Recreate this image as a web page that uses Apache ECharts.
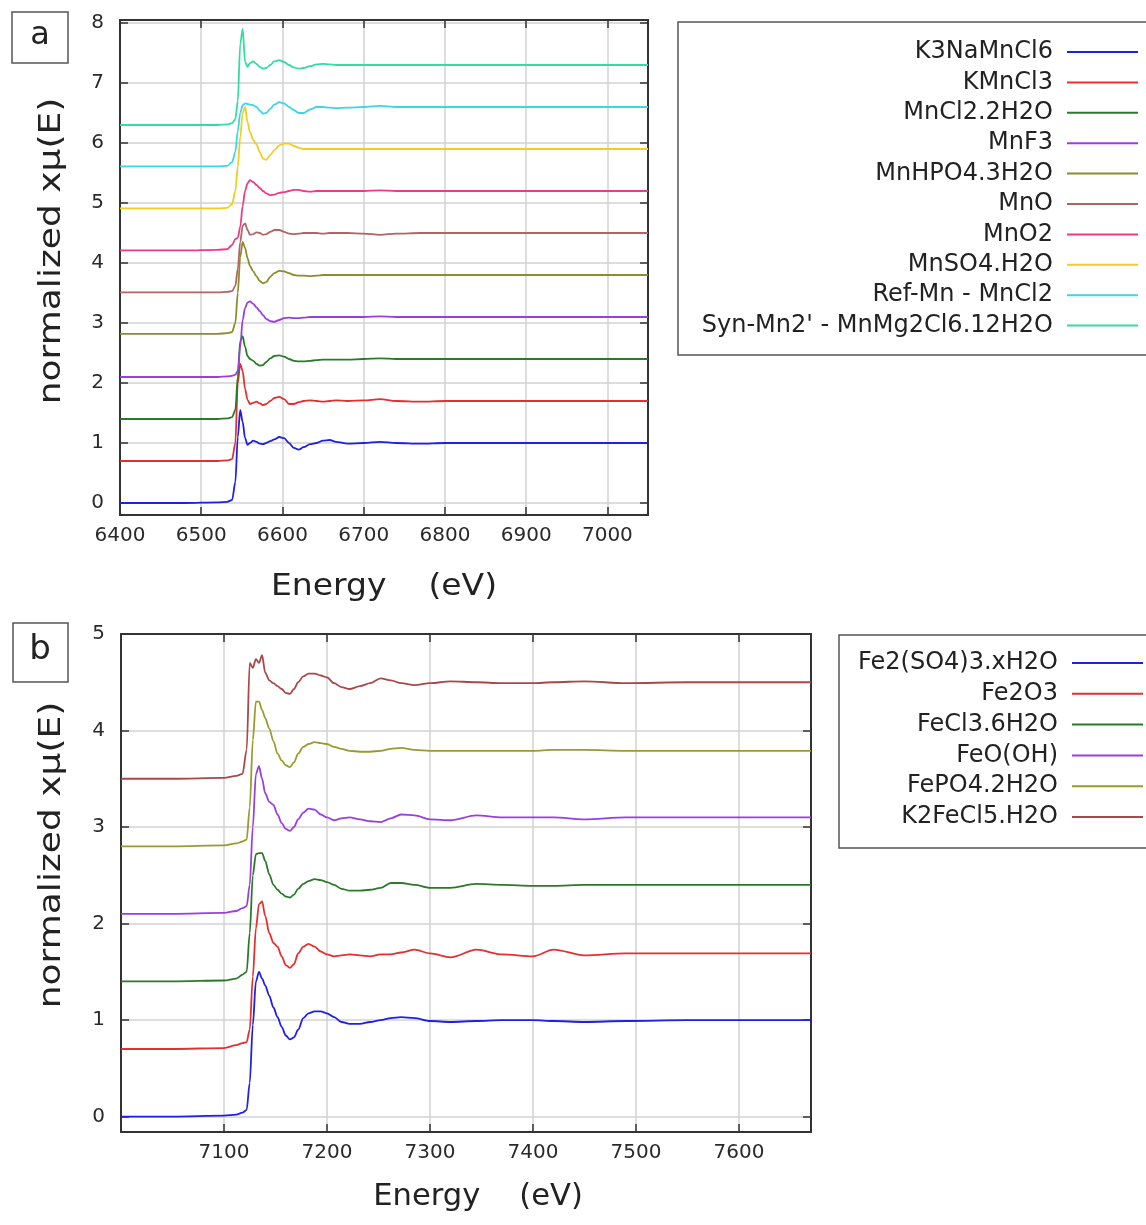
<!DOCTYPE html>
<html><head><meta charset="utf-8">
<script src="https://cdn.jsdelivr.net/npm/echarts@6/dist/echarts.min.js"></script>
<style>html,body{margin:0;padding:0;background:#fff}#c{width:1146px;height:1225px}</style>
</head><body><div id="c"></div>
<script>
// ---------- Panel a : Mn K-edge ----------
const energyMn = [6400, 6480, 6520, 6532, 6538, 6542, 6545, 6548, 6551, 6554, 6557, 6560, 6564, 6568, 6572, 6576, 6580, 6585, 6590, 6596, 6602, 6608, 6614, 6620, 6626, 6634, 6642, 6650, 6658, 6666, 6680, 6700, 6720, 6740, 6770, 6800, 6850, 6900, 6950, 7000, 7050];
const namesMn = ['K3NaMnCl6', 'KMnCl3', 'MnCl2.2H2O', 'MnF3', 'MnHPO4.3H2O', 'MnO', 'MnO2', 'MnSO4.H2O', 'Ref-Mn - MnCl2', "Syn-Mn2' - MnMg2Cl6.12H2O"];
const offsetsMn = [0, 0.7, 1.4, 2.1, 2.8, 3.5, 4.2, 4.9, 5.6, 6.3];
const k3NaMnCl6 = [0.00, 0.00, 0.01, 0.02, 0.05, 0.35, 1.10, 1.55, 1.35, 1.08, 0.97, 1.00, 1.04, 1.02, 0.99, 0.98, 1.00, 1.03, 1.06, 1.10, 1.08, 1.00, 0.92, 0.89, 0.93, 0.98, 1.00, 1.04, 1.05, 1.02, 0.99, 1.00, 1.02, 1.00, 0.99, 1.00, 1.00, 1.00, 1.00, 1.00, 1.00];
const kMnCl3 = [0.00, 0.00, 0.00, 0.01, 0.03, 0.30, 1.30, 1.62, 1.50, 1.20, 1.02, 0.95, 0.97, 0.99, 0.96, 0.93, 0.95, 1.00, 1.05, 1.07, 1.03, 0.95, 0.95, 0.98, 1.00, 1.01, 1.00, 0.99, 1.00, 1.01, 1.00, 1.01, 1.03, 1.00, 0.99, 1.00, 1.00, 1.00, 1.00, 1.00, 1.00];
const mnCl2_2H2O = [0.00, 0.00, 0.00, 0.01, 0.03, 0.15, 0.70, 1.30, 1.38, 1.20, 1.05, 1.00, 0.97, 0.92, 0.89, 0.90, 0.95, 1.01, 1.05, 1.06, 1.04, 1.00, 0.97, 0.96, 0.96, 0.97, 0.98, 0.99, 0.99, 0.99, 0.99, 1.00, 1.01, 1.00, 1.00, 1.00, 1.00, 1.00, 1.00, 1.00, 1.00];
const mnF3 = [0.00, 0.00, 0.00, 0.01, 0.02, 0.04, 0.10, 0.50, 0.95, 1.15, 1.24, 1.26, 1.22, 1.16, 1.10, 1.03, 0.97, 0.93, 0.92, 0.95, 0.98, 0.99, 0.98, 0.98, 0.99, 1.00, 1.00, 1.00, 1.00, 1.00, 1.00, 1.00, 1.01, 1.00, 1.00, 1.00, 1.00, 1.00, 1.00, 1.00, 1.00];
const mnHPO4_3H2O = [0.02, 0.02, 0.02, 0.03, 0.05, 0.20, 0.70, 1.30, 1.55, 1.45, 1.28, 1.15, 1.06, 0.98, 0.90, 0.86, 0.88, 0.97, 1.03, 1.07, 1.06, 1.03, 1.00, 0.99, 0.99, 0.98, 0.99, 1.00, 1.00, 1.00, 1.00, 1.00, 1.00, 1.00, 1.00, 1.00, 1.00, 1.00, 1.00, 1.00, 1.00];
const mnO = [0.01, 0.01, 0.01, 0.02, 0.03, 0.12, 0.40, 0.85, 1.12, 1.16, 1.05, 0.97, 0.98, 1.01, 1.00, 0.97, 0.98, 1.02, 1.05, 1.05, 1.02, 0.99, 0.98, 0.99, 1.00, 1.00, 1.00, 0.99, 1.00, 1.00, 1.00, 0.99, 0.97, 0.99, 1.00, 1.00, 1.00, 1.00, 1.00, 1.00, 1.00];
const mnO2 = [0.01, 0.01, 0.02, 0.03, 0.10, 0.20, 0.22, 0.40, 0.75, 1.00, 1.13, 1.18, 1.15, 1.10, 1.05, 1.00, 0.96, 0.93, 0.94, 0.97, 0.98, 1.00, 1.02, 1.02, 1.00, 0.99, 1.00, 1.00, 1.00, 1.00, 1.00, 1.00, 1.01, 1.00, 1.00, 1.00, 1.00, 1.00, 1.00, 1.00, 1.00];
const mnSO4_H2O = [0.01, 0.01, 0.01, 0.02, 0.08, 0.30, 0.70, 1.20, 1.60, 1.70, 1.45, 1.28, 1.15, 1.08, 0.95, 0.84, 0.82, 0.90, 0.98, 1.06, 1.09, 1.09, 1.05, 1.02, 1.00, 1.00, 1.00, 1.00, 1.00, 1.00, 1.00, 1.00, 1.00, 1.00, 1.00, 1.00, 1.00, 1.00, 1.00, 1.00, 1.00];
const refMnCl2 = [0.01, 0.01, 0.01, 0.02, 0.08, 0.25, 0.60, 0.90, 1.03, 1.06, 1.05, 1.04, 1.03, 1.00, 0.94, 0.89, 0.90, 0.97, 1.04, 1.08, 1.06, 1.00, 0.95, 0.90, 0.90, 0.96, 1.00, 1.00, 0.99, 0.98, 0.99, 1.00, 1.02, 1.00, 1.00, 1.00, 1.00, 1.00, 1.00, 1.00, 1.00];
const synMn2 = [0.00, 0.00, 0.00, 0.01, 0.03, 0.10, 0.40, 1.35, 1.60, 1.05, 0.97, 1.03, 1.06, 1.02, 0.97, 0.94, 0.95, 1.00, 1.06, 1.08, 1.05, 1.00, 0.96, 0.94, 0.95, 0.98, 1.01, 1.02, 1.01, 1.00, 1.00, 1.00, 1.00, 1.00, 1.00, 1.00, 1.00, 1.00, 1.00, 1.00, 1.00];
const valuesMn = [k3NaMnCl6, kMnCl3, mnCl2_2H2O, mnF3, mnHPO4_3H2O, mnO, mnO2, mnSO4_H2O, refMnCl2, synMn2];
const xTicksMn = [6400, 6500, 6600, 6700, 6800, 6900, 7000];
const yTicksMn = [0, 1, 2, 3, 4, 5, 6, 7, 8];

// ---------- Panel b : Fe K-edge ----------
const energyFe = [7000, 7050, 7100, 7112, 7118, 7122, 7125, 7128, 7131, 7134, 7137, 7140, 7144, 7148, 7152, 7156, 7160, 7164, 7168, 7172, 7177, 7182, 7188, 7194, 7200, 7207, 7214, 7222, 7232, 7242, 7252, 7262, 7272, 7285, 7300, 7320, 7345, 7370, 7400, 7420, 7450, 7490, 7550, 7600, 7670];
const namesFe = ['Fe2(SO4)3.xH2O', 'Fe2O3', 'FeCl3.6H2O', 'FeO(OH)', 'FePO4.2H2O', 'K2FeCl5.H2O'];
const offsetsFe = [0, 0.7, 1.4, 2.1, 2.8, 3.5];
const fe2SO43 = [0.00, 0.00, 0.01, 0.02, 0.04, 0.07, 0.35, 0.95, 1.40, 1.50, 1.43, 1.36, 1.25, 1.13, 1.03, 0.93, 0.84, 0.80, 0.82, 0.90, 1.02, 1.07, 1.09, 1.09, 1.07, 1.03, 0.98, 0.96, 0.96, 0.98, 1.00, 1.02, 1.03, 1.02, 0.99, 0.98, 0.99, 1.00, 1.00, 0.99, 0.98, 0.99, 1.00, 1.00, 1.00];
const fe2O3 = [0.00, 0.00, 0.01, 0.04, 0.06, 0.07, 0.20, 0.75, 1.25, 1.50, 1.53, 1.38, 1.20, 1.10, 1.06, 0.96, 0.87, 0.84, 0.88, 0.99, 1.06, 1.09, 1.06, 1.01, 0.98, 0.96, 0.97, 0.98, 0.97, 0.96, 0.98, 0.98, 1.00, 1.03, 0.99, 0.95, 1.03, 0.98, 0.96, 1.03, 0.97, 0.99, 0.99, 0.99, 0.99];
const feCl3_6H2O = [0.00, 0.00, 0.01, 0.03, 0.07, 0.10, 0.50, 1.10, 1.32, 1.33, 1.33, 1.25, 1.11, 1.00, 0.95, 0.91, 0.88, 0.87, 0.90, 0.96, 1.01, 1.04, 1.06, 1.05, 1.03, 1.00, 0.96, 0.94, 0.94, 0.95, 0.97, 1.02, 1.02, 1.00, 0.97, 0.97, 1.01, 1.00, 0.99, 0.99, 1.00, 1.00, 1.00, 1.00, 1.00];
const feOOH = [0.00, 0.00, 0.01, 0.03, 0.06, 0.08, 0.30, 0.90, 1.45, 1.53, 1.40, 1.25, 1.16, 1.13, 1.03, 0.94, 0.88, 0.86, 0.90, 0.98, 1.05, 1.09, 1.08, 1.03, 1.00, 0.97, 0.99, 1.00, 0.98, 0.96, 0.95, 0.99, 1.03, 1.02, 0.98, 0.97, 1.02, 1.00, 1.00, 1.00, 0.98, 1.00, 1.00, 1.00, 1.00];
const fePO4_2H2O = [0.00, 0.00, 0.01, 0.03, 0.05, 0.07, 0.40, 1.10, 1.50, 1.50, 1.41, 1.33, 1.22, 1.09, 0.96, 0.89, 0.84, 0.82, 0.87, 0.96, 1.03, 1.06, 1.08, 1.07, 1.06, 1.03, 1.01, 0.99, 0.98, 0.98, 0.99, 1.01, 1.02, 1.00, 0.99, 0.99, 0.99, 0.99, 0.99, 1.00, 1.00, 0.99, 0.99, 0.99, 0.99];
const k2FeCl5_H2O = [0.00, 0.00, 0.01, 0.03, 0.05, 0.30, 1.20, 1.15, 1.24, 1.20, 1.28, 1.10, 1.02, 0.99, 0.96, 0.93, 0.89, 0.88, 0.93, 1.00, 1.06, 1.09, 1.09, 1.07, 1.05, 0.99, 0.95, 0.93, 0.96, 0.99, 1.04, 1.02, 0.99, 0.97, 0.99, 1.01, 1.00, 0.99, 0.99, 1.00, 1.01, 0.99, 1.00, 1.00, 1.00];
const valuesFe = [fe2SO43, fe2O3, feCl3_6H2O, feOOH, fePO4_2H2O, k2FeCl5_H2O];
const xTicksFe = [7100, 7200, 7300, 7400, 7500, 7600];
const yTicksFe = [0, 1, 2, 3, 4, 5];

// ---------- styling ----------
const colorsMn = ['#1f1fe6', '#e62e2e', '#2a7a2a', '#9b3fdc', '#8c8c2a', '#b06464', '#ee3a84', '#f2cc1f', '#3cd6e6', '#34dca0'];
const colorsFe = ['#1f1fe6', '#e62e2e', '#2a7a2a', '#9b3fdc', '#9a9a2e', '#a84848'];
const FONT = '"DejaVu Sans", "Liberation Sans", sans-serif';
const AX = '#333';
const GRIDC = '#d2d2d2';

function mkSeries(names, energy, values, offsets, colors, axisIdx) {
  return names.map((n, k) => ({
    name: n, type: 'line', xAxisIndex: axisIdx, yAxisIndex: axisIdx,
    symbol: 'none', smooth: 0.3, smoothMonotone: 'x',
    lineStyle: { color: colors[k], width: 1.8 }, itemStyle: { color: colors[k] },
    data: energy.map((e, i) => [e, +(values[k][i] + offsets[k]).toFixed(3)])
  }));
}
const plain = v => String(v);
function xAxes(grid, min, max, ticks) {
  const base = { type: 'value', gridIndex: grid, min: min, max: max, interval: 100 };
  return [
    Object.assign({}, base, { position: 'bottom',
      axisLine: { show: true, onZero: false, lineStyle: { color: AX, width: 2 } },
      axisTick: { show: true, inside: true, length: 8, customValues: ticks, lineStyle: { color: AX, width: 1.5 } },
      axisLabel: { show: true, customValues: ticks, formatter: plain, fontFamily: FONT, fontSize: 20, color: '#2a2a2a', margin: 11 },
      splitLine: { show: true, lineStyle: { color: GRIDC, width: 1.5 } } }),
    Object.assign({}, base, { position: 'top',
      axisLine: { show: true, onZero: false, lineStyle: { color: AX, width: 2 } },
      axisTick: { show: true, inside: true, length: 8, customValues: ticks, lineStyle: { color: AX, width: 1.5 } },
      axisLabel: { show: false }, splitLine: { show: false } })
  ];
}
function yAxes(grid, min, max, ticks) {
  const base = { type: 'value', gridIndex: grid, min: min, max: max };
  return [
    Object.assign({}, base, { position: 'left',
      axisLine: { show: true, onZero: false, lineStyle: { color: AX, width: 2 } },
      axisTick: { show: true, inside: true, length: 8, customValues: ticks, lineStyle: { color: AX, width: 1.5 } },
      axisLabel: { show: true, customValues: ticks, formatter: plain, fontFamily: FONT, fontSize: 20, color: '#2a2a2a', margin: 16 },
      splitLine: { show: true, lineStyle: { color: GRIDC, width: 1.5 } } }),
    Object.assign({}, base, { position: 'right',
      axisLine: { show: true, onZero: false, lineStyle: { color: AX, width: 2 } },
      axisTick: { show: true, inside: true, length: 8, customValues: ticks, lineStyle: { color: AX, width: 1.5 } },
      axisLabel: { show: false }, splitLine: { show: false } })
  ];
}
function legend(names, top, right, gap) {
  return { data: names, orient: 'vertical', align: 'right', top: top, right: right, padding: 0,
    icon: 'rect', itemWidth: 71, itemHeight: 2, itemGap: gap, selectedMode: false,
    textStyle: { fontFamily: FONT, fontSize: 24, color: '#222', lineHeight: 24, padding: [0, 9, 0, 0] } };
}
function txt(x, y, text, size, extra) {
  return Object.assign({ type: 'text', x: x, y: y, silent: true,
    style: { text: text, fontFamily: FONT, fontSize: size, fill: '#222', align: 'center', verticalAlign: 'middle' } }, extra || {});
}
function box(x, y, w, h) {
  return { type: 'rect', silent: true, shape: { x: x, y: y, width: w, height: h }, style: { fill: 'none', stroke: '#555', lineWidth: 1.5 } };
}

const chart = echarts.init(document.getElementById('c'), null, { renderer: 'canvas' });
chart.setOption({
  backgroundColor: '#fff',
  animation: false,
  grid: [
    { left: 120, top: 20, width: 528, height: 495 },
    { left: 121, top: 634, width: 690, height: 498 }
  ],
  xAxis: xAxes(0, 6400, 7050, xTicksMn).concat(xAxes(1, 7000, 7670, xTicksFe)),
  yAxis: yAxes(0, -0.2, 8.05, yTicksMn).concat(yAxes(1, -0.16, 5, yTicksFe)),
  legend: [legend(namesMn, 40, 8, 6.4), legend(namesFe, 651, 3, 6.8)],
  series: mkSeries(namesMn, energyMn, valuesMn, offsetsMn, colorsMn, 0)
    .concat(mkSeries(namesFe, energyFe, valuesFe, offsetsFe, colorsFe, 2)),
  graphic: [
    box(678, 22, 480, 333),
    box(839, 635, 320, 213),
    box(12, 12, 56, 51),
    box(13, 623, 55, 59),
    txt(40, 36, 'a', 32),
    txt(40, 650, 'b', 34),
    txt(52, 251, 'normalized xμ(E)', 30, { rotation: Math.PI / 2, scaleX: 1.2 }),
    txt(52, 855, 'normalized xμ(E)', 30, { rotation: Math.PI / 2, scaleX: 1.2 }),
    txt(384, 587, 'Energy    (eV)', 30, { scaleX: 1.1 }),
    txt(478, 1197, 'Energy    (eV)', 30, { scaleX: 1.02 })
  ]
});
</script>
</body></html>
